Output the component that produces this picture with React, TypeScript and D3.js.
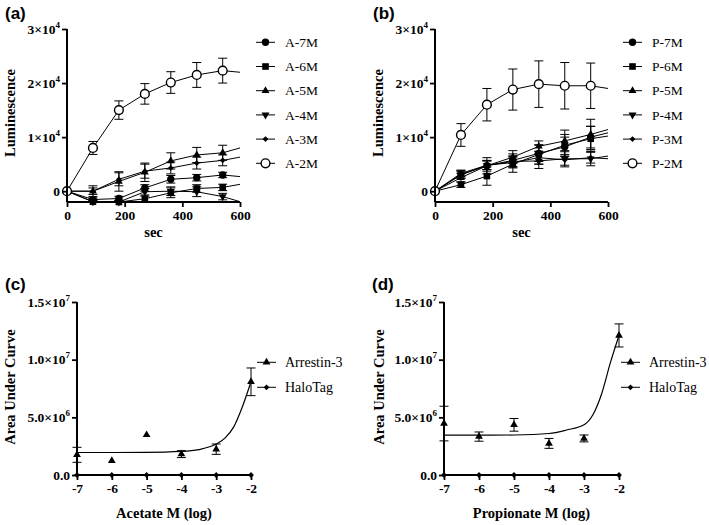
import React, { useEffect, useRef } from 'react';
import * as d3 from 'd3';

// time points (sec); the 630 s point sits past the axis end, only its line shows
const timeSec = [0, 90, 180, 270, 360, 450, 540, 630];

const acetateNames = ['A-7M', 'A-6M', 'A-5M', 'A-4M', 'A-3M', 'A-2M'];
const aceA7 = [0, -1550, -1350, 600, 2200, 2500, 3000, 2550];
const aceA6 = [0, -1950, -2000, -1400, -300, 500, 700, 1550];
const aceA5 = [0, 0, 1800, 3500, 5600, 6700, 7100, 8450];
const aceA4 = [0, -1950, -2000, -100, 0, -100, -1000, -2400];
const aceA3 = [0, 0, 2200, 3700, 4300, 5200, 5700, 6600];
const aceA2 = [0, 8000, 15000, 18000, 20100, 21500, 22300, 21850];
const aceA7Err = [0, 300, 400, 600, 700, 600, 500, 0];
const aceA6Err = [0, 300, 300, 500, 900, 700, 600, 0];
const aceA5Err = [0, 600, 1800, 1700, 1500, 1400, 1400, 0];
const aceA4Err = [0, 300, 300, 600, 800, 900, 600, 0];
const aceA3Err = [0, 1000, 1200, 1300, 1100, 1100, 1000, 0];
const aceA2Err = [0, 1200, 1700, 1900, 2000, 2300, 2300, 0];

const propionateNames = ['P-7M', 'P-6M', 'P-5M', 'P-4M', 'P-3M', 'P-2M'];
const proP7 = [0, 3100, 4700, 5700, 7000, 8200, 10000, 11200];
const proP6 = [0, 1200, 2800, 5000, 6800, 8500, 9700, 10450];
const proP5 = [0, 2500, 4700, 6300, 8300, 9300, 10500, 11850];
const proP4 = [0, 3000, 4800, 5500, 5600, 6000, 6000, 6750];
const proP3 = [0, 3300, 4800, 5300, 6200, 5800, 6200, 5900];
const proP2 = [0, 10400, 16000, 18800, 19800, 19500, 19500, 18750];
const proP7Err = [0, 700, 1000, 1200, 1500, 1800, 2000, 0];
const proP6Err = [0, 500, 1700, 1500, 1800, 2000, 2300, 0];
const proP5Err = [0, 800, 1500, 1200, 1000, 2000, 2800, 0];
const proP4Err = [0, 600, 800, 1000, 1400, 1500, 1300, 0];
const proP3Err = [0, 600, 800, 1000, 1200, 1000, 1000, 0];
const proP2Err = [0, 2100, 3000, 3800, 4300, 4300, 4200, 0];

const markerKinds = ['circle', 'square', 'triangle', 'triangleDown', 'diamond', 'openCircle'];

const timeTicks = [0, 200, 400, 600];
const lumTicks = [0, 10000, 20000, 30000];
const lumTickLabels = [['0', ''], ['1×10', '4'], ['2×10', '4'], ['3×10', '4']];

// dose response panels
const logConc = [-7, -6, -5, -4, -3, -2];
const arrAcetate = [1.75e6, 1.23e6, 3.48e6, 1.81e6, 2.24e6, 8.08e6];
const arrAcetateErr = [0.65e6, 0, 0, 0.3e6, 0.45e6, 1.2e6];
const haloAcetate = [0, 0, 0, 0, 0, 0];
const arrPropionate = [4.46e6, 3.33e6, 4.35e6, 2.74e6, 3.17e6, 12.1e6];
const arrPropionateErr = [1.5e6, 0.4e6, 0.55e6, 0.43e6, 0.3e6, 1.0e6];
const haloPropionate = [0, 0, 0, 0, 0, 0];
// fitted curves
const fitX = [-7, -6, -5, -4, -3.5, -3, -2.75, -2.5, -2.25, -2];
const fitAcetate = [1.95e6, 1.95e6, 1.96e6, 2.04e6, 2.2e6, 2.68e6, 3.2e6, 4.15e6, 5.9e6, 8.08e6];
const fitPropionate = [3.45e6, 3.45e6, 3.47e6, 3.6e6, 3.9e6, 4.35e6, 5.2e6, 7.0e6, 9.7e6, 12.1e6];
const aucTicks = [0, 5e6, 1e7, 1.5e7];
const aucTickLabels = [['0.0', ''], ['5.0×10', '6'], ['1.0×10', '7'], ['1.5×10', '7']];
const doseLegend = ['Arrestin-3', 'HaloTag'];

const SERIF = "'Liberation Serif', 'DejaVu Serif', 'Noto Serif', serif";
const SANS = "'Liberation Sans', Arial, sans-serif";

function drawMarker(g, kind, cx, cy) {
  if (kind === 'circle') {
    g.append('circle').attr('cx', cx).attr('cy', cy).attr('r', 3.7).attr('fill', '#000');
  } else if (kind === 'openCircle') {
    g.append('circle').attr('cx', cx).attr('cy', cy).attr('r', 4.4).attr('fill', '#fff')
      .attr('stroke', '#000').attr('stroke-width', 1.4);
  } else if (kind === 'square') {
    g.append('rect').attr('x', cx - 3.3).attr('y', cy - 3.3).attr('width', 6.6).attr('height', 6.6).attr('fill', '#000');
  } else if (kind === 'triangle' || kind === 'triangleDown') {
    g.append('path')
      .attr('d', d3.symbol().type(d3.symbolTriangle).size(27)())
      .attr('transform', `translate(${cx},${cy})${kind === 'triangleDown' ? ' rotate(180)' : ''}`)
      .attr('fill', '#000');
  } else if (kind === 'diamond') {
    g.append('path')
      .attr('d', d3.symbol().type(d3.symbolSquare).size(17)())
      .attr('transform', `translate(${cx},${cy}) rotate(45)`)
      .attr('fill', '#000');
  }
}

function supLabel(sel, main, sup) {
  sel.append('tspan').text(main);
  if (sup) sel.append('tspan').attr('dy', -6).style('font-size', '9px').text(sup);
}

function serifText(sel, size, bold) {
  return sel.style('font-family', SERIF).style('font-size', size + 'px')
    .style('font-weight', bold ? 'bold' : 'normal').attr('fill', '#000');
}

function timePanel(svg, opts) {
  const { left, names, values, errors, letter, labelX, legendX, clipId } = opts;
  const x = d3.scaleLinear().domain([0, 600]).range([left, left + 173]);
  const y = d3.scaleLinear().domain([-2000, 30000]).range([202, 29]);
  const g = svg.append('g');

  g.append('clipPath').attr('id', clipId).append('rect')
    .attr('x', x(0)).attr('y', 0).attr('width', x(600) - x(0)).attr('height', y(-2000));
  const plot = g.append('g').attr('clip-path', `url(#${clipId})`);

  const line = d3.line().x((d, i) => x(timeSec[i])).y(d => y(d));
  values.forEach((vals, s) => {
    plot.append('path').datum(vals).attr('d', line).attr('fill', 'none')
      .attr('stroke', '#000').attr('stroke-width', 1);
    vals.forEach((v, i) => {
      const e = errors[s][i];
      if (!e || timeSec[i] > 600) return;
      const xc = x(timeSec[i]);
      plot.append('line').attr('x1', xc).attr('x2', xc).attr('y1', y(v - e)).attr('y2', y(v + e))
        .attr('stroke', '#000').attr('stroke-width', 1);
      [v - e, v + e].forEach(b => {
        plot.append('line').attr('x1', xc - 4.5).attr('x2', xc + 4.5).attr('y1', y(b)).attr('y2', y(b))
          .attr('stroke', '#000').attr('stroke-width', 1);
      });
    });
  });
  values.forEach((vals, s) => {
    vals.forEach((v, i) => {
      if (timeSec[i] > 600 || v < -2000) return;
      drawMarker(g, markerKinds[s], x(timeSec[i]), y(v));
    });
  });

  // axes
  const xAxis = g.append('g').attr('transform', `translate(0,${y(-2000)})`)
    .call(d3.axisBottom(x).tickValues(timeTicks).tickSize(5).tickPadding(3).tickFormat(d3.format('d')));
  const yAxis = g.append('g').attr('transform', `translate(${x(0)},0)`)
    .call(d3.axisLeft(y).tickValues(lumTicks).tickSize(5).tickPadding(2).tickFormat(() => ''));
  [xAxis, yAxis].forEach(a => {
    a.attr('font-family', null);
    a.select('.domain').attr('stroke-width', 2);
    a.selectAll('.tick line').attr('stroke-width', 1.8);
    serifText(a.selectAll('text'), 13.5, true);
  });
  xAxis.select('.domain').attr('d', `M${x(0)},0H${x(600)}`);
  yAxis.select('.domain').attr('d', `M0,${y(30000)}V${y(-2000)}`);
  yAxis.selectAll('.tick text').each(function (d, i) {
    supLabel(d3.select(this), lumTickLabels[i][0], lumTickLabels[i][1]);
  });

  serifText(g.append('text'), 14.5, true).attr('transform', `translate(${labelX},113) rotate(-90)`)
    .attr('text-anchor', 'middle').text('Luminescence');
  serifText(g.append('text'), 14.5, true).attr('x', (x(0) + x(600)) / 2).attr('y', 237)
    .attr('text-anchor', 'middle').text('sec');
  g.append('text').attr('x', left - 62).attr('y', 19).style('font-family', SANS).style('font-weight', 'bold')
    .style('font-size', '17px').text(letter);

  names.forEach((n, i) => {
    const ly = 42.3 + i * 24.2;
    g.append('line').attr('x1', legendX).attr('x2', legendX + 19).attr('y1', ly).attr('y2', ly)
      .attr('stroke', '#000').attr('stroke-width', 1);
    drawMarker(g, markerKinds[i], legendX + 9.5, ly);
    serifText(g.append('text'), 13.5, false).attr('x', legendX + 29).attr('y', ly).attr('dy', '0.35em').text(n);
  });
}

function dosePanel(svg, opts) {
  const { left, width, arr, arrErr, halo, fit, letter, labelX, legendX, xLabel } = opts;
  const x = d3.scaleLinear().domain([-7, -2]).range([left, left + width]);
  const y = d3.scaleLinear().domain([0, 1.5e7]).range([475, 302]);
  const g = svg.append('g');

  g.append('path').datum(fitX.map((fx, i) => [fx, fit[i]]))
    .attr('d', d3.line().x(d => x(d[0])).y(d => y(d[1])).curve(d3.curveMonotoneX))
    .attr('fill', 'none').attr('stroke', '#000').attr('stroke-width', 1.2);

  arr.forEach((v, i) => {
    const e = arrErr[i];
    if (!e) return;
    const xc = x(logConc[i]);
    g.append('line').attr('x1', xc).attr('x2', xc).attr('y1', y(v - e)).attr('y2', y(v + e))
      .attr('stroke', '#000').attr('stroke-width', 1);
    [v - e, v + e].forEach(b => {
      g.append('line').attr('x1', xc - 4.5).attr('x2', xc + 4.5).attr('y1', y(b)).attr('y2', y(b))
        .attr('stroke', '#000').attr('stroke-width', 1);
    });
  });
  arr.forEach((v, i) => {
    g.append('path').attr('d', d3.symbol().type(d3.symbolTriangle).size(26)())
      .attr('transform', `translate(${x(logConc[i])},${y(v)})`).attr('fill', '#000');
  });

  const xAxis = g.append('g').attr('transform', `translate(0,${y(0)})`)
    .call(d3.axisBottom(x).tickValues(logConc).tickSize(5).tickPadding(3).tickFormat(d3.format('d')));
  const yAxis = g.append('g').attr('transform', `translate(${x(-7)},0)`)
    .call(d3.axisLeft(y).tickValues(aucTicks).tickSize(5).tickPadding(2).tickFormat(() => ''));
  [xAxis, yAxis].forEach(a => {
    a.attr('font-family', null);
    a.select('.domain').attr('stroke-width', 2);
    a.selectAll('.tick line').attr('stroke-width', 1.8);
    serifText(a.selectAll('text'), 13.5, true);
  });
  xAxis.select('.domain').attr('d', `M${x(-7)},0H${x(-2)}`);
  yAxis.select('.domain').attr('d', `M0,${y(1.5e7)}V${y(0)}`);
  xAxis.selectAll('.tick text').text(d => String(d));
  yAxis.selectAll('.tick text').each(function (d, i) {
    supLabel(d3.select(this), aucTickLabels[i][0], aucTickLabels[i][1]);
  });

  // HaloTag series along zero
  g.append('path').datum(halo).attr('d', d3.line().x((d, i) => x(logConc[i])).y(d => y(d)))
    .attr('stroke', '#000').attr('stroke-width', 1.5).attr('fill', 'none');
  halo.forEach((v, i) => drawMarker(g, 'diamond', x(logConc[i]), y(v)));

  serifText(g.append('text'), 14.5, true).attr('transform', `translate(${labelX},387) rotate(-90)`)
    .attr('text-anchor', 'middle').text('Area Under Curve');
  serifText(g.append('text'), 14.5, true).attr('x', (x(-7) + x(-2)) / 2).attr('y', 518)
    .attr('text-anchor', 'middle').text(xLabel);
  g.append('text').attr('x', left - 72).attr('y', 290).style('font-family', SANS).style('font-weight', 'bold')
    .style('font-size', '17px').text(letter);

  doseLegend.forEach((n, i) => {
    const ly = 362.3 + i * 25;
    g.append('line').attr('x1', legendX).attr('x2', legendX + 19).attr('y1', ly).attr('y2', ly)
      .attr('stroke', '#000').attr('stroke-width', 1);
    drawMarker(g, i === 0 ? 'triangle' : 'diamond', legendX + 9.5, ly);
    serifText(g.append('text'), 14, false).attr('x', legendX + 28).attr('y', ly).attr('dy', '0.35em').text(n);
  });
}

const App = () => {
  const svgRef = useRef(null);

  useEffect(() => {
    const svg = d3.select(svgRef.current);
    svg.selectAll('*').remove();

    timePanel(svg, {
      left: 67, names: acetateNames, letter: '(a)', labelX: 15, legendX: 256, clipId: 'clipA',
      values: [aceA7, aceA6, aceA5, aceA4, aceA3, aceA2],
      errors: [aceA7Err, aceA6Err, aceA5Err, aceA4Err, aceA3Err, aceA2Err],
    });
    timePanel(svg, {
      left: 435, names: propionateNames, letter: '(b)', labelX: 383, legendX: 623, clipId: 'clipB',
      values: [proP7, proP6, proP5, proP4, proP3, proP2],
      errors: [proP7Err, proP6Err, proP5Err, proP4Err, proP3Err, proP2Err],
    });
    dosePanel(svg, {
      left: 77, width: 174, arr: arrAcetate, arrErr: arrAcetateErr, halo: haloAcetate, fit: fitAcetate,
      letter: '(c)', labelX: 15, legendX: 257, xLabel: 'Acetate M (log)',
    });
    dosePanel(svg, {
      left: 444, width: 175, arr: arrPropionate, arrErr: arrPropionateErr, halo: haloPropionate, fit: fitPropionate,
      letter: '(d)', labelX: 384, legendX: 621, xLabel: 'Propionate M (log)',
    });
  }, []);

  return (
    <svg ref={svgRef} width={709} height={525}
      style={{ position: 'absolute', left: 0, top: 0, background: '#fff' }} />
  );
};

export default App;
